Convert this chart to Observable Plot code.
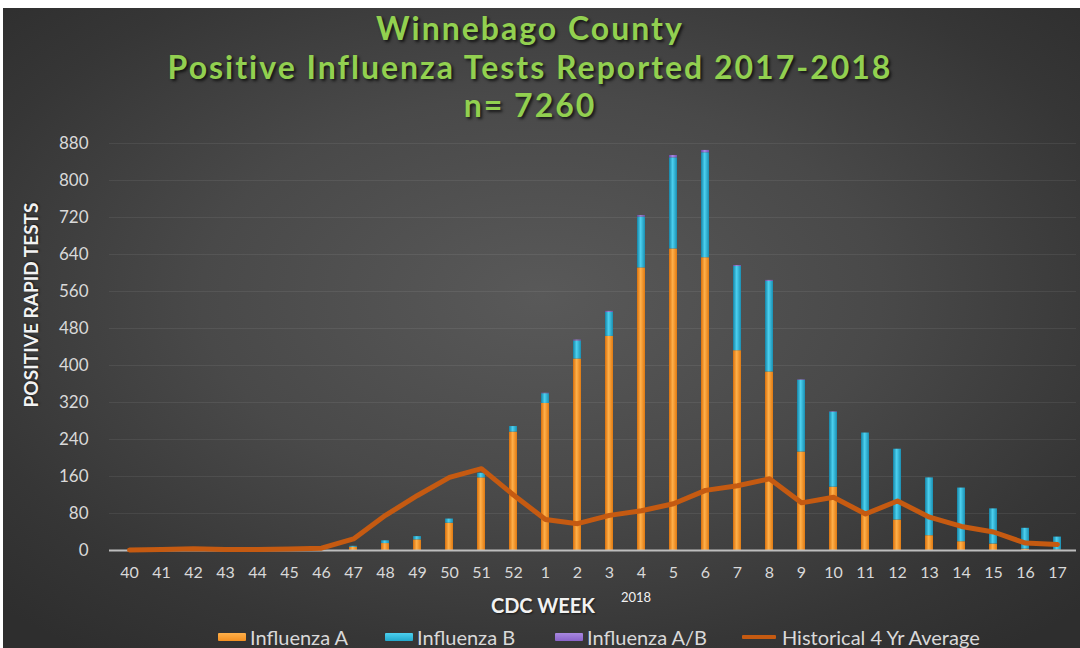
<!DOCTYPE html>
<html>
<head>
<meta charset="utf-8">
<script src="https://cdn.jsdelivr.net/npm/d3@7"></script>
<script src="https://cdn.jsdelivr.net/npm/@observablehq/plot@0.6"></script>
<style>
  html, body { margin: 0; padding: 0; background: #ffffff; }
  #wrap {
    position: relative; width: 1080px; height: 648px; overflow: hidden;
    font-family: Lato, "Open Sans", sans-serif;
  }
  #panel {
    position: absolute; left: 3px; top: 8px; right: 0; bottom: 0;
    background: radial-gradient(ellipse 70% 70% at 50% 45%, #595959 0%, #494949 45%, #363636 80%, #2e2e2e 100%);
  }
  .tline {
    position: absolute; left: 0; width: 1060px; text-align: center; transform: translateY(-50%);
    color: #92d050; font-weight: bold; font-size: 32px; line-height: 34px; letter-spacing: 2px;
    text-shadow: 2px 2px 3px rgba(0,0,0,0.7); white-space: nowrap;
  }
  #chart { position: absolute; left: 0; top: 125px; }
  #ylabel {
    position: absolute; left: 30px; top: 305px; transform: translate(-50%, -50%) rotate(-90deg);
    color: #f2f2f2; font-weight: bold; font-size: 19px; white-space: nowrap;
    text-shadow: 1px 1px 2px rgba(0,0,0,0.6);
  }
  #xlabel {
    position: absolute; left: 543px; top: 605px; transform: translate(-50%, -50%);
    color: #f2f2f2; font-weight: bold; font-size: 20px; white-space: nowrap;
    text-shadow: 1px 1px 2px rgba(0,0,0,0.6);
  }
  #year {
    position: absolute; left: 636px; top: 597px; transform: translate(-50%, -50%);
    color: #f2f2f2; font-size: 13px;
  }
  .item {
    position: absolute; top: 626px; display: flex; align-items: center;
    color: #d9d9d9; font-size: 20px; white-space: nowrap; line-height: 22px;
  }
  .sw { width: 28px; height: 8px; margin-right: 4px; border-radius: 1px; }
</style>
</head>
<body>
<div id="wrap">
  <div id="panel"></div>
  <div class="tline" style="top:28px">Winnebago County</div>
  <div class="tline" style="top:67px">Positive Influenza Tests Reported 2017-2018</div>
  <div class="tline" style="top:105px">n= 7260</div>
  <div id="chart"></div>
  <div id="ylabel">POSITIVE RAPID TESTS</div>
  <div id="xlabel">CDC WEEK</div>
  <div id="year">2018</div>
</div>
<script>
// ---- data ----
const weeks = ["40","41","42","43","44","45","46","47","48","49","50","51","52",
               "1","2","3","4","5","6","7","8","9","10","11","12","13","14","15","16","17"];
const fluA  = [0,0,1,0,0,2,1,7,15,23,59,157,256,318,414,463,611,652,633,432,386,213,137,79,66,32,19,14,3,1];
const fluB  = [0,0,0,0,0,0,0,2,6,7,9,10,12,21,39,52,110,197,227,182,196,155,162,175,153,125,116,76,45,28];
const fluAB = [0,0,0,0,0,0,0,0,0,0,0,0,0,1,2,2,3,5,5,2,2,1,1,0,0,0,0,0,0,0];
const hist4yr = [1,2,4,2,2,3,5,25,76,119,158,177,120,67,58,76,86,101,130,140,155,103,115,79,107,72,52,40,16,13];
const yTicks = [0,80,160,240,320,400,480,560,640,720,800,880];
const seriesNames = ["Influenza A","Influenza B","Influenza A/B"];
const lineName = "Historical 4 Yr Average";

// ---- tables built from the arrays ----
const barRows = [];
weeks.forEach((w, i) => {
  barRows.push({week: w, type: seriesNames[0], value: fluA[i]});
  barRows.push({week: w, type: seriesNames[1], value: fluB[i]});
  barRows.push({week: w, type: seriesNames[2], value: fluAB[i]});
});
const lineRows = weeks.map((w, i) => ({week: w, value: hist4yr[i]}));

const plainColors = ["#f39021", "#22a8cc", "#8a63c9"];
const gradIds = ["gA", "gB", "gAB"];
const gradStops = [
  ["#d9700c", "#ffb04a", "#e07a12"],
  ["#1584a6", "#4cd0ef", "#1a8fb2"],
  ["#6a45a8", "#a888e0", "#7450b2"]
];

const chart = Plot.plot({
  width: 1080,
  height: 495,
  marginLeft: 109,
  marginRight: 4,
  marginTop: 18,
  marginBottom: 70,
  style: {background: "transparent", color: "#d9d9d9", fontFamily: "Lato, 'Open Sans', sans-serif", fontSize: "16px"},
  x: {domain: weeks, paddingInner: 0.75, paddingOuter: 0.37, align: 0.5, label: null, tickSize: 0, tickPadding: 16},
  y: {domain: [0, 880], ticks: yTicks, label: null, tickSize: 0, tickPadding: 21},
  color: {domain: seriesNames, range: gradIds.map(id => `url(#${id})`)},
  marks: [
    Plot.ruleY(yTicks.slice(1), {stroke: "#ffffff", strokeOpacity: 0.07}),
    Plot.barY(barRows, Plot.stackY({x: "week", y: "value", fill: "type", order: seriesNames})),
    Plot.ruleY([0], {stroke: "#bdbdbd", strokeWidth: 2}),
    Plot.line(lineRows, {x: "week", y: "value", stroke: "#c55a11", strokeWidth: 5, curve: "linear", strokeLinejoin: "round", strokeLinecap: "round"})
  ]
});

// gradient definitions for the cylinder-like bar shading
const svg = d3.select(chart);
svg.selectAll("g[aria-label='y-axis tick label'] text, g[aria-label='y-axis'] text").style("font-size", "17px");
const defs = svg.insert("defs", ":first-child");
gradIds.forEach((id, k) => {
  const g = defs.append("linearGradient").attr("id", id).attr("x1", "0%").attr("x2", "100%").attr("y1", "0%").attr("y2", "0%");
  g.append("stop").attr("offset", "0%").attr("stop-color", gradStops[k][0]);
  g.append("stop").attr("offset", "45%").attr("stop-color", gradStops[k][1]);
  g.append("stop").attr("offset", "100%").attr("stop-color", gradStops[k][2]);
});
document.getElementById("chart").appendChild(chart);

// legend
const wrap = document.getElementById("wrap");
const legendLefts = [218, 385, 555, 742];
const legendNames = seriesNames.concat([lineName]);
legendNames.forEach((name, k) => {
  const it = document.createElement("div"); it.className = "item";
  it.style.left = legendLefts[k] + "px";
  const sw = document.createElement("div"); sw.className = "sw";
  if (k < 3) {
    sw.style.background = `linear-gradient(to bottom, ${gradStops[k][1]}, ${plainColors[k]})`;
  } else {
    sw.style.height = "4px"; sw.style.width = "34px"; sw.style.marginRight = "6px"; sw.style.background = "#c55a11";
  }
  it.appendChild(sw);
  it.appendChild(document.createTextNode(name));
  wrap.appendChild(it);
});
</script>
</body>
</html>
